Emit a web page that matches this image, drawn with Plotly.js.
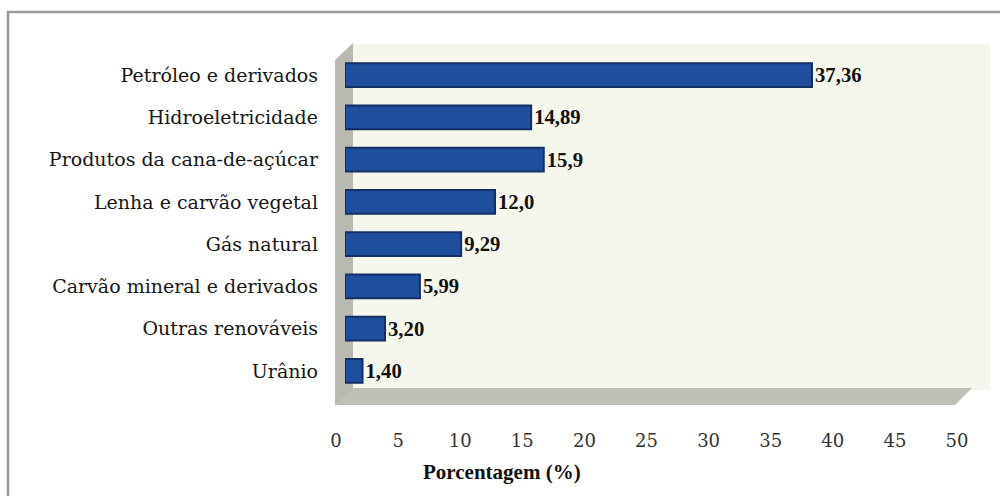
<!DOCTYPE html>
<html>
<head>
<meta charset="utf-8">
<script src="https://cdn.plot.ly/plotly-3.0.1.min.js"></script>
<style>html,body{margin:0;padding:0;background:#fff;}#chart{width:1000px;height:496px;}</style>
</head>
<body>
<div id="chart"></div>
<script>
const categories = ["Petróleo e derivados", "Hidroeletricidade", "Produtos da cana-de-açúcar", "Lenha e carvão vegetal", "Gás natural", "Carvão mineral e derivados", "Outras renováveis", "Urânio"];
const values = [37.36, 14.89, 15.9, 12.0, 9.29, 5.99, 3.20, 1.40];
const valueLabels = ["37,36", "14,89", "15,9", "12,0", "9,29", "5,99", "3,20", "1,40"];
const tickValues = [0, 5, 10, 15, 20, 25, 30, 35, 40, 45, 50];
const axisTitle = "Porcentagem (%)";

const W = 1000, H = 496;
const px = v => v / W;
const py = v => 1 - v / H;
const serifBold = "Liberation Serif";
const serifReg = "DejaVu Serif";

const bars = {
  type: "bar",
  orientation: "h",
  y: categories,
  x: values,
  text: valueLabels,
  textposition: "outside",
  cliponaxis: false,
  textfont: {family: serifBold, size: 21, color: "#111", weight: "bold"},
  width: 0.56,
  marker: {color: "#1f4f9c", line: {color: "#142f66", width: 2}},
  hoverinfo: "skip",
  xaxis: "x", yaxis: "y"
};

const tickCarrier = {
  type: "scatter", mode: "markers",
  x: [tickValues[0], tickValues[tickValues.length - 1]],
  y: [categories[0], categories[0]],
  marker: {opacity: 0},
  hoverinfo: "skip", showlegend: false,
  xaxis: "x2", yaxis: "y"
};

const layout = {
  width: W, height: H,
  margin: {l: 0, r: 0, t: 0, b: 0},
  paper_bgcolor: "#ffffff",
  plot_bgcolor: "rgba(0,0,0,0)",
  font: {family: serifReg, color: "#111"},
  showlegend: false,
  bargap: 0.44,
  xaxis: {
    domain: [px(345), px(970)], range: [0, 50],
    showticklabels: false, showgrid: false, zeroline: false, showline: false, ticks: ""
  },
  xaxis2: {
    domain: [px(336), px(957)], range: [0, 50], anchor: "y",
    tickvals: tickValues, ticks: "", ticklabelstandoff: 36,
    tickfont: {family: serifReg, size: 18, color: "#333"},
    showgrid: false, zeroline: false, showline: false
  },
  yaxis: {
    domain: [py(392), py(54)], autorange: "reversed", type: "category",
    ticks: "", ticklabelstandoff: 26,
    tickfont: {family: serifReg, size: 19, color: "#161616"},
    showgrid: false, zeroline: false, showline: false
  },
  annotations: [{
    text: axisTitle, xref: "paper", yref: "paper",
    x: px(502), y: py(472), xanchor: "center", yanchor: "middle", showarrow: false,
    font: {family: serifBold, size: 21, color: "#111", weight: "bold"}
  }],
  shapes: [
    {type: "rect", xref: "paper", yref: "paper", x0: px(8), x1: 1.05, y0: -0.05, y1: py(12),
     line: {color: "#9a9a9a", width: 2.5}, fillcolor: "rgba(0,0,0,0)", layer: "below"},
    {type: "rect", xref: "paper", yref: "paper", x0: px(350), x1: px(990), y0: py(390), y1: py(44),
     line: {width: 0}, fillcolor: "#f5f6ec", layer: "below"},
    {type: "path", xref: "paper", yref: "paper",
     path: `M ${px(335)} ${py(60)} L ${px(353)} ${py(43)} L ${px(353)} ${py(390)} L ${px(335)} ${py(405)} Z`,
     line: {width: 0}, fillcolor: "#b9b9b2", layer: "below"},
    {type: "path", xref: "paper", yref: "paper",
     path: `M ${px(335)} ${py(405)} L ${px(353)} ${py(388)} L ${px(972)} ${py(388)} L ${px(955)} ${py(405)} Z`,
     line: {width: 0}, fillcolor: "#bfbfb8", layer: "below"}
  ]
};

Plotly.newPlot("chart", [bars, tickCarrier], layout, {staticPlot: true, displayModeBar: false});
</script>
</body>
</html>
